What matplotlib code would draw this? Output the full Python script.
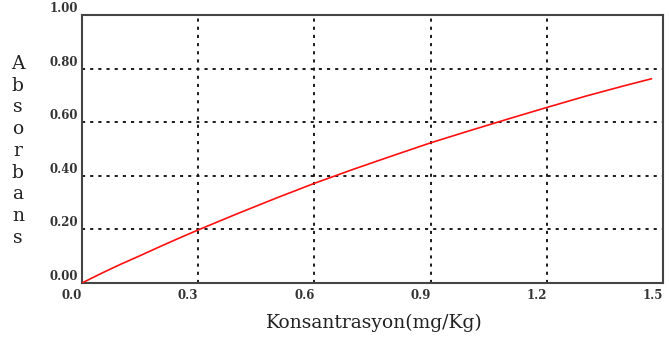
import numpy as np
import matplotlib
matplotlib.use('Agg')
import matplotlib.pyplot as plt

# calibration curve readings
konsantrasyon = [0.0, 0.05, 0.10, 0.15, 0.20, 0.25, 0.30, 0.40, 0.50, 0.60, 0.70,
                 0.80, 0.90, 1.00, 1.10, 1.20, 1.30, 1.40, 1.47]
absorbans = [0.0, 0.036, 0.070, 0.102, 0.135, 0.167, 0.198, 0.258, 0.316, 0.372, 0.424,
             0.474, 0.523, 0.568, 0.612, 0.655, 0.697, 0.736, 0.762]

x_ticks = [0.0, 0.3, 0.6, 0.9, 1.2, 1.5]
x_labels = ['0.0', '0.3', '0.6', '0.9', '1.2', '1.5']
y_ticks = [0.0, 0.2, 0.4, 0.6, 0.8, 1.0]
y_labels = ['0.00', '0.20', '0.40', '0.60', '0.80', '1.00']
ylabel = 'Absorbans'
xlabel = 'Konsantrasyon(mg/Kg)'

plt.rcParams['font.family'] = ['DejaVu Serif']

fig = plt.figure(figsize=(6.69, 3.40), dpi=100)
ax = fig.add_axes([82 / 669, 57 / 340, 581 / 669, 268 / 340])

ax.plot(konsantrasyon, absorbans, color='#ff1010', linewidth=1.2, zorder=3)

ax.set_xlim(0, 1.5)
ax.set_ylim(0, 1.0)

# dotted grid, inner lines only
for xv in x_ticks[1:-1]:
    ax.axvline(xv, color='#1a1a1a', linewidth=1.4, linestyle=(0, (1.6, 2.6)), zorder=2)
for yv in y_ticks[1:-1]:
    ax.axhline(yv, color='#1a1a1a', linewidth=1.4, linestyle=(0, (1.6, 2.6)), zorder=2)

ax.set_xticks([])
ax.set_yticks([])
for s in ax.spines.values():
    s.set_color('#444444')
    s.set_linewidth(1.5)

# tick labels placed by hand: x labels right-aligned on the tick, y labels sitting on the line
for xv, lab in zip(x_ticks, x_labels):
    ax.annotate(lab, xy=(xv, 0), xycoords='data', xytext=(0, -4), textcoords='offset points',
                ha='right', va='top', fontsize=8.5, fontweight='bold', color='#333333')
for yv, lab in zip(y_ticks, y_labels):
    ax.annotate(lab, xy=(0, yv), xycoords='data', xytext=(-3, 0), textcoords='offset points',
                ha='right', va='bottom', fontsize=8.5, fontweight='bold', color='#333333')

fig.text(374 / 669, 1 - 323 / 340, xlabel, ha='center', va='center', fontsize=13.5, color='#222222')

# vertical stacked letters for the y axis title
for i, ch in enumerate(ylabel):
    ypix = 64 + i * 21.7
    fig.text(18 / 669, 1 - ypix / 340, ch, ha='center', va='center', fontsize=13.5, color='#222222')

fig.savefig('out.png', dpi=100)
